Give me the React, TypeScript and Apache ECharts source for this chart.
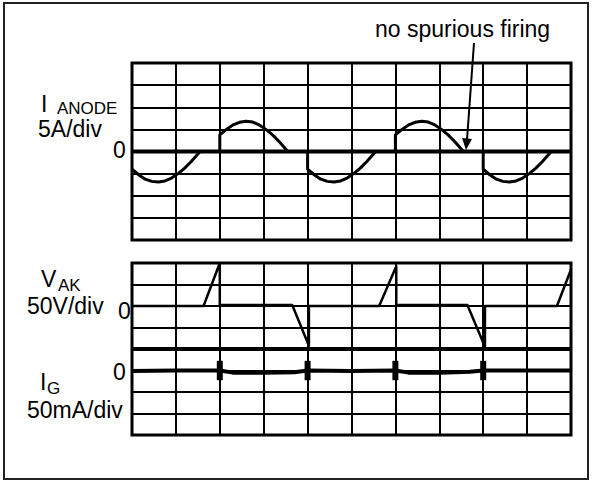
import React, { useEffect, useRef } from "react";
import * as echarts from "echarts";

// Time axis: 10 divisions
const X_TICKS = [0, 1, 2, 3, 4, 5, 6, 7, 8, 9, 10];

// I ANODE trace (divisions, 5A/div)
const ANODE_TRACE: [number, number][] = [
  [0, -0.8], [0.15, -1.05], [0.3, -1.25], [0.45, -1.35], [0.6, -1.38], [0.75, -1.33], [0.9, -1.2], [1.05, -1.0], [1.2, -0.75], [1.35, -0.45], [1.55, 0], [2, 0],
  [2, 0.75], [2.15, 1.0], [2.3, 1.2], [2.45, 1.32], [2.6, 1.37], [2.75, 1.33], [2.9, 1.2], [3.05, 1.0], [3.2, 0.75], [3.35, 0.45], [3.55, 0], [4, 0],
  [4, -0.8], [4.15, -1.05], [4.3, -1.25], [4.45, -1.35], [4.6, -1.38], [4.75, -1.33], [4.9, -1.2], [5.05, -1.0], [5.2, -0.75], [5.35, -0.45], [5.55, 0], [6, 0],
  [6, 0.75], [6.15, 1.0], [6.3, 1.2], [6.45, 1.32], [6.6, 1.37], [6.75, 1.33], [6.9, 1.2], [7.05, 1.0], [7.2, 0.75], [7.35, 0.45], [7.55, 0], [8, 0],
  [8, -0.8], [8.15, -1.05], [8.3, -1.25], [8.45, -1.35], [8.6, -1.38], [8.75, -1.33], [8.9, -1.2], [9.05, -1.0], [9.2, -0.75], [9.35, -0.45], [9.55, 0], [10, 0],
];

// V AK trace (divisions, 50V/div, zero at 0)
const VAK_TRACE: [number, number][] = [
  [0, 0], [1.63, 0], [2.0, 2.0], [2.0, 0.05], [3.65, 0.05], [4.03, -1.85], [4.03, 0],
  [5.63, 0], [6.02, 1.85], [6.02, 0.05], [7.64, 0.05], [8.04, -1.9], [8.04, 0],
  [9.68, 0], [10, 1.7],
];

// I G trace (divisions, 50mA/div, zero at -3)
const IG_TRACE: [number, number][] = [
  [0, -3.02], [1, -3.0], [2, -3.0], [2.3, -3.1], [3, -3.1], [3.7, -3.08], [4, -3.0],
  [5, -3.02], [6, -3.0], [6.3, -3.1], [7, -3.1], [7.7, -3.06], [8, -3.0], [9, -3.0], [10, -3.0],
];
const IG_PULSE_X = [2, 4, 6, 8];
const IG_PULSE_LOW = -3.45;
const IG_PULSE_HIGH = -2.55;

const TOP_Y_RANGE = [-4, 4];
const BOTTOM_Y_RANGE = [-6, 2];

export default function App() {
  const ref = useRef<HTMLDivElement>(null);

  useEffect(() => {
    if (!ref.current) return;
    const chart = echarts.init(ref.current, undefined, { renderer: "svg" });
    const font = "'Liberation Sans', Arial, Helvetica, sans-serif";
    const gridLeft = 132;
    const gridWidth = 439;

    const xAxisBase = (gridIndex: number) => ({
      type: "value" as const,
      gridIndex,
      min: X_TICKS[0],
      max: X_TICKS[X_TICKS.length - 1],
      interval: 1,
      axisLine: { show: false },
      axisTick: { show: false },
      axisLabel: { show: false },
      splitLine: { show: true, lineStyle: { color: "#000", width: 2 } },
    });
    const yAxisBase = (gridIndex: number, range: number[]) => ({
      type: "value" as const,
      gridIndex,
      min: range[0],
      max: range[1],
      interval: 1,
      axisLine: { show: false },
      axisTick: { show: false },
      axisLabel: { show: false },
      splitLine: { show: true, lineStyle: { color: "#000", width: 2 } },
    });

    const lineSeries = (data: any[], xi: number, width: number, z = 3) => ({
      type: "line" as const,
      xAxisIndex: xi,
      yAxisIndex: xi,
      data,
      symbol: "none",
      lineStyle: { color: "#000", width, cap: "butt" as const, join: "round" as const },
      z,
      silent: true,
    });

    const series: any[] = [
      lineSeries([[0, 0], [10, 0]], 0, 4, 2),
      lineSeries(ANODE_TRACE, 0, 3),
      lineSeries([[0, -2], [10, -2]], 1, 4, 2),
      lineSeries(VAK_TRACE, 1, 2.5),
      lineSeries(IG_TRACE, 1, 4),
      ...IG_PULSE_X.map((x) => lineSeries([[x, IG_PULSE_LOW], [x, IG_PULSE_HIGH]], 1, 6)),
    ];

    const txt = (text: string, x: number, y: number, size: number, align = "left") => ({
      type: "text" as const,
      x,
      y,
      style: { text, fontSize: size, fontFamily: font, fill: "#000", align, verticalAlign: "middle" },
      z: 10,
    });

    chart.setOption({
      animation: false,
      backgroundColor: "#fff",
      grid: [
        { left: gridLeft, top: 63, width: gridWidth, height: 177, show: true, borderColor: "#000", borderWidth: 3, backgroundColor: "transparent" },
        { left: gridLeft, top: 263, width: gridWidth, height: 172, show: true, borderColor: "#000", borderWidth: 3, backgroundColor: "transparent" },
      ],
      xAxis: [xAxisBase(0), xAxisBase(1)],
      yAxis: [yAxisBase(0, TOP_Y_RANGE), yAxisBase(1, BOTTOM_Y_RANGE)],
      series,
      graphic: [
        { type: "rect", shape: { x: 4, y: 3, width: 584, height: 476 }, style: { fill: "none", stroke: "#222", lineWidth: 2 }, z: 0 },
        txt("no spurious firing", 375, 29, 23),
        { type: "line", shape: { x1: 474, y1: 43, x2: 467, y2: 140 }, style: { stroke: "#000", lineWidth: 2 }, z: 10 },
        { type: "polygon", shape: { points: [[462, 138], [472, 139], [466, 150]] }, style: { fill: "#000" }, z: 10 },
        txt("I", 41, 104, 23),
        txt("ANODE", 57, 108, 17),
        txt("5A/div", 38, 129, 23),
        txt("0", 113, 150, 23),
        txt("V", 41, 279, 23),
        txt("AK", 58, 285, 17),
        txt("50V/div", 27, 306, 23),
        txt("0", 118, 311, 23),
        txt("I", 40, 382, 23),
        txt("G", 47, 388, 17),
        txt("0", 113, 372, 23),
        txt("50mA/div", 27, 410, 23),
      ],
    });
    return () => chart.dispose();
  }, []);

  return <div ref={ref} style={{ position: "fixed", left: 0, top: 0, width: 592, height: 482 }} />;
}
